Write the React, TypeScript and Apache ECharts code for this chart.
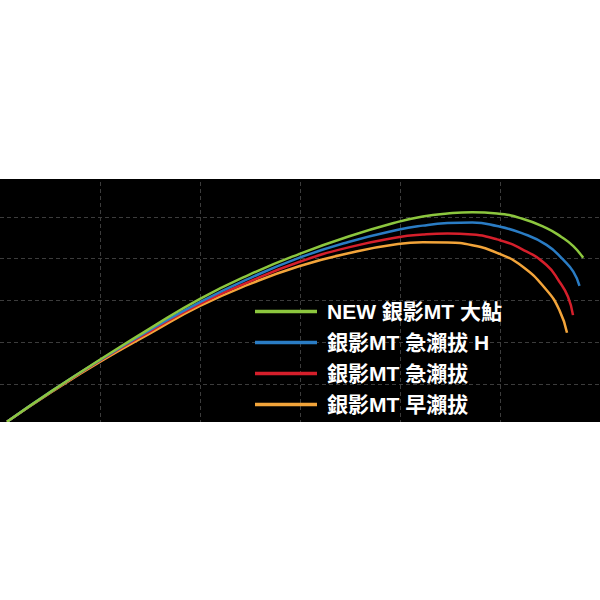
import React, { useEffect, useRef } from "react";
import * as echarts from "echarts";

// x: grid units (vertical grid lines at 1..5), y: grid units (horizontal lines at 1..5)
const seriesNames = [
  "NEW 銀影MT 大鮎",
  "銀影MT 急瀨拔 H",
  "銀影MT 急瀨拔",
  "銀影MT 早瀨拔",
];
const colors = ["#8cc63e", "#2a7cc4", "#d51f2b", "#f2a43a"];

const greenData: [number, number][] = [
  [0.07, 0.1], [0.52, 0.84], [1.01, 1.6], [1.505, 2.34], [2.0, 3.04], [2.495, 3.62],
  [2.99, 4.11], [3.485, 4.53], [3.98, 4.88], [4.228, 5.01], [4.475, 5.08], [4.723, 5.11],
  [4.97, 5.08], [5.218, 4.96], [5.465, 4.73], [5.614, 4.52], [5.733, 4.3], [5.832, 4.02],
];
const blueData: [number, number][] = [
  [0.07, 0.1], [0.52, 0.84], [1.01, 1.59], [1.505, 2.3], [2.0, 2.96], [2.495, 3.53],
  [2.99, 4.02], [3.485, 4.4], [3.98, 4.69], [4.228, 4.79], [4.475, 4.85], [4.723, 4.865],
  [4.97, 4.78], [5.218, 4.61], [5.465, 4.33], [5.634, 3.97], [5.733, 3.69], [5.795, 3.35],
];
const redData: [number, number][] = [
  [0.07, 0.1], [0.52, 0.83], [1.01, 1.58], [1.505, 2.27], [2.0, 2.92], [2.495, 3.45],
  [2.99, 3.92], [3.485, 4.27], [3.98, 4.51], [4.228, 4.575], [4.475, 4.6], [4.723, 4.575],
  [4.97, 4.46], [5.218, 4.23], [5.465, 3.85], [5.594, 3.45], [5.68, 3.09], [5.73, 2.65],
];
const orangeData: [number, number][] = [
  [0.07, 0.1], [0.52, 0.82], [1.01, 1.55], [1.505, 2.22], [2.0, 2.87], [2.495, 3.39],
  [2.99, 3.82], [3.485, 4.13], [3.98, 4.35], [4.228, 4.39], [4.475, 4.385], [4.723, 4.32],
  [4.97, 4.14], [5.218, 3.825], [5.465, 3.25], [5.594, 2.77], [5.67, 2.23],
];
const allData = [greenData, blueData, redData, orangeData];

export default function App() {
  const ref = useRef<HTMLDivElement>(null);
  useEffect(() => {
    if (!ref.current) return;
    const chart = echarts.init(ref.current, null, { renderer: "svg" });
    const gridLine = {
      show: true,
      showMinLine: false,
      showMaxLine: false,
      lineStyle: { color: "#3c3c3c", type: [4, 3] as any, width: 1 },
    };
    chart.setOption({
      animation: false,
      backgroundColor: "#ffffff",
      graphic: [
        {
          type: "rect",
          z: -10,
          silent: true,
          shape: { x: 0, y: 179, width: 600, height: 243 },
          style: { fill: "#000000" },
        },
        {
          type: "rect",
          z: 100,
          silent: true,
          shape: { x: 0, y: 168, width: 600, height: 11 },
          style: { fill: "#ffffff" },
        },
        {
          type: "rect",
          z: 100,
          silent: true,
          shape: { x: 0, y: 422, width: 600, height: 11 },
          style: { fill: "#ffffff" },
        },
      ],
      grid: { left: -2, top: 175, width: 606, height: 251, containLabel: false },
      xAxis: {
        type: "value",
        min: 0,
        max: 6,
        interval: 1,
        axisLine: { show: false },
        axisTick: { show: false },
        axisLabel: { show: false },
        splitLine: gridLine,
      },
      yAxis: {
        type: "value",
        min: 0,
        max: 6,
        interval: 1,
        axisLine: { show: false },
        axisTick: { show: false },
        axisLabel: { show: false },
        splitLine: gridLine,
      },
      legend: {
        orient: "vertical",
        left: 255,
        top: 301,
        padding: 0,
        icon: "rect",
        itemWidth: 62,
        itemHeight: 3.5,
        itemGap: 10,
        textStyle: {
          color: "#ffffff",
          fontSize: 21,
          fontWeight: "bold",
          lineHeight: 20,
          fontFamily: '"Liberation Sans", "Noto Sans CJK TC", sans-serif',
          padding: [0, 0, 0, 5],
        },
        data: seriesNames,
      },
      series: seriesNames.map((name, i) => ({
        name,
        type: "line",
        data: allData[i],
        smooth: 0.5,
        showSymbol: false,
        symbol: "none",
        z: 10 - i,
        lineStyle: { color: colors[i], width: 2.5 },
        itemStyle: { color: colors[i] },
      })).reverse(),
    });
    return () => chart.dispose();
  }, []);
  return (
    <div
      ref={ref}
      style={{ position: "absolute", left: 0, top: 0, width: 600, height: 600 }}
    />
  );
}
